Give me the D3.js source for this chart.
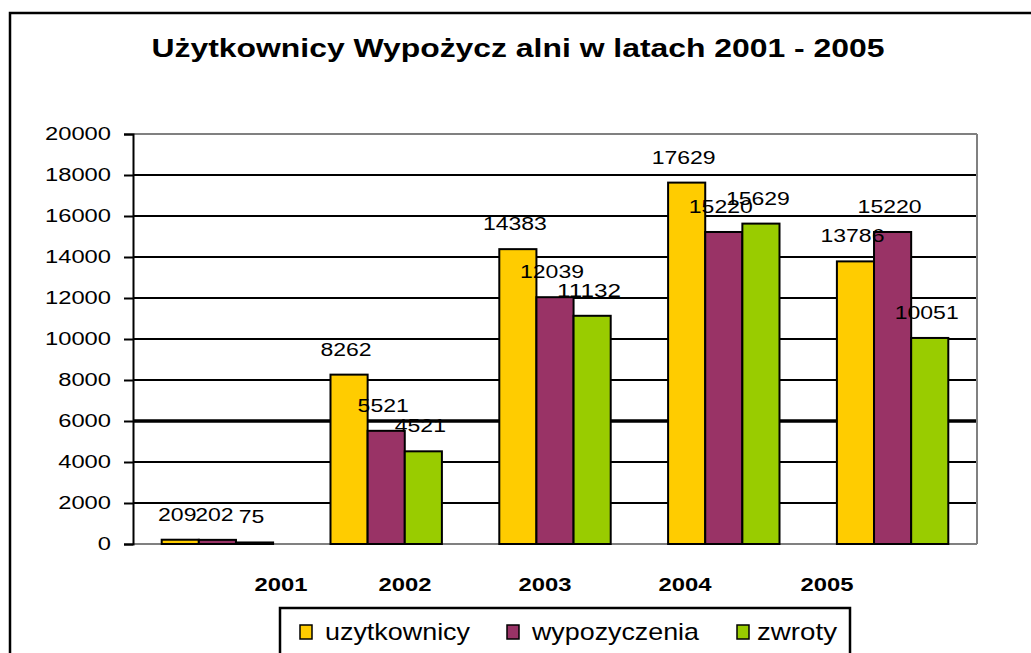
<html>
<head>
  <meta charset="UTF-8">
  <title>Użytkownicy Wypożyczalni</title>
  <script src="https://d3js.org/d3.v7.min.js"></script>
  <style>
    body {
      margin: 0;
      background-color: white;
    }
    text {
      font-family: "Liberation Sans", Arial, sans-serif;
    }
  </style>
</head>

<body>
  <svg></svg>
</body>

<script>
  // chart data
  let years = ["2001", "2002", "2003", "2004", "2005"];
  let series = ["uzytkownicy", "wypozyczenia", "zwroty"];
  let uzytkownicy = [209, 8262, 14383, 17629, 13786];
  let wypozyczenia = [202, 5521, 12039, 15220, 15220];
  let zwroty = [75, 4521, 11132, 15629, 10051];
  let yTicks = [0, 2000, 4000, 6000, 8000, 10000, 12000, 14000, 16000, 18000, 20000];
  let colors = ["#FFCC00", "#993366", "#99CC00"];

  let width = 1031,
    height = 653;

  let svg = d3.select("svg")
    .attr("width", width)
    .attr("height", height);

  // outer chart frame (cut off at right and bottom)
  svg.append("rect")
    .attr("x", 10).attr("y", 13)
    .attr("width", 1040).attr("height", 700)
    .attr("fill", "white")
    .attr("stroke", "black").attr("stroke-width", 2.5);

  svg.append("text")
    .attr("x", 518).attr("y", 57)
    .attr("text-anchor", "middle")
    .attr("font-size", 26)
    .attr("font-weight", "bold")
    .attr("textLength", 733)
    .attr("lengthAdjust", "spacingAndGlyphs")
    .text("Użytkownicy Wypożycz alni w latach 2001 - 2005");

  let plot = { left: 133, right: 977, top: 134, bottom: 544 };

  let x = d3.scaleBand()
    .domain(years)
    .range([plot.left, plot.right])
    .paddingInner(0.34)
    .paddingOuter(0.17);

  let xs = d3.scaleBand()
    .domain(series)
    .range([0, x.bandwidth()]);

  let y = d3.scaleLinear()
    .domain([0, 20000])
    .range([plot.bottom, plot.top]);

  // gridlines
  svg.append("g")
    .selectAll("line")
    .data(yTicks)
    .enter()
    .append("line")
    .attr("x1", plot.left).attr("x2", plot.right)
    .attr("y1", d => y(d)).attr("y2", d => y(d))
    .attr("stroke", d => (d == 0 || d == 20000) ? "#808080" : "black")
    .attr("stroke-width", d => d == 6000 ? 3.5 : 2);

  // right border of plot area
  svg.append("line")
    .attr("x1", plot.right).attr("x2", plot.right)
    .attr("y1", plot.top).attr("y2", plot.bottom)
    .attr("stroke", "#808080").attr("stroke-width", 2);

  // y axis
  let yAxis = svg.append("g")
    .attr("transform", "translate(" + plot.left + ",0)")
    .call(d3.axisLeft(y).tickValues(yTicks).tickSize(9).tickPadding(13).tickFormat(d3.format("d")));
  yAxis.select(".domain").attr("stroke", "black").attr("stroke-width", 2);
  yAxis.selectAll(".tick line").attr("stroke", "black").attr("stroke-width", 2);
  yAxis.selectAll(".tick text")
    .attr("font-family", "Liberation Sans, Arial, sans-serif")
    .attr("font-size", 18)
    .attr("fill", "black")
    .attr("textLength", d => String(d).length * 13.2)
    .attr("lengthAdjust", "spacingAndGlyphs");

  // bars
  let rows = years.map((yr, i) => ({
    year: yr,
    values: [uzytkownicy[i], wypozyczenia[i], zwroty[i]]
  }));

  let groups = svg.append("g")
    .selectAll("g")
    .data(rows)
    .enter()
    .append("g")
    .attr("transform", d => "translate(" + x(d.year) + ",0)");

  groups.selectAll("rect")
    .data(d => d.values.map((v, j) => ({ key: series[j], value: v, color: colors[j] })))
    .enter()
    .append("rect")
    .attr("x", d => xs(d.key))
    .attr("width", xs.bandwidth())
    .attr("y", d => y(d.value))
    .attr("height", d => y(0) - y(d.value))
    .attr("fill", d => d.color)
    .attr("stroke", "black")
    .attr("stroke-width", 2);

  // value labels
  groups.selectAll("text")
    .data(d => d.values.map((v, j) => ({ key: series[j], value: v })))
    .enter()
    .append("text")
    .attr("x", d => xs(d.key) + xs.bandwidth() / 2 - 3)
    .attr("y", d => y(d.value) - 19)
    .attr("text-anchor", "middle")
    .attr("font-size", 18)
    .attr("textLength", d => String(d.value).length * 12.8)
    .attr("lengthAdjust", "spacingAndGlyphs")
    .text(d => d.value);

  // category labels (sit off their groups in the original)
  let yearLabelX = [281, 405, 545, 685, 827];
  svg.append("g")
    .selectAll("text")
    .data(years)
    .enter()
    .append("text")
    .attr("x", (d, i) => yearLabelX[i])
    .attr("y", 591)
    .attr("text-anchor", "middle")
    .attr("font-size", 18)
    .attr("font-weight", "bold")
    .attr("textLength", 53)
    .attr("lengthAdjust", "spacingAndGlyphs")
    .text(d => d);

  // legend
  svg.append("rect")
    .attr("x", 280).attr("y", 608)
    .attr("width", 570).attr("height", 80)
    .attr("fill", "white")
    .attr("stroke", "black").attr("stroke-width", 2.5);

  let legendX = [300, 507, 737];
  let legendW = [145, 167, 80];
  let legend = svg.append("g")
    .selectAll("g")
    .data(series)
    .enter()
    .append("g")
    .attr("transform", (d, i) => "translate(" + legendX[i] + ",625)");

  legend.append("rect")
    .attr("width", 12).attr("height", 14)
    .attr("fill", (d, i) => colors[i])
    .attr("stroke", "black").attr("stroke-width", 1.5);

  legend.append("text")
    .attr("x", (d, i) => i == 2 ? 20 : 25)
    .attr("y", 15)
    .attr("font-size", 24)
    .attr("textLength", (d, i) => legendW[i])
    .attr("lengthAdjust", "spacingAndGlyphs")
    .text(d => d);
</script>
</html>
